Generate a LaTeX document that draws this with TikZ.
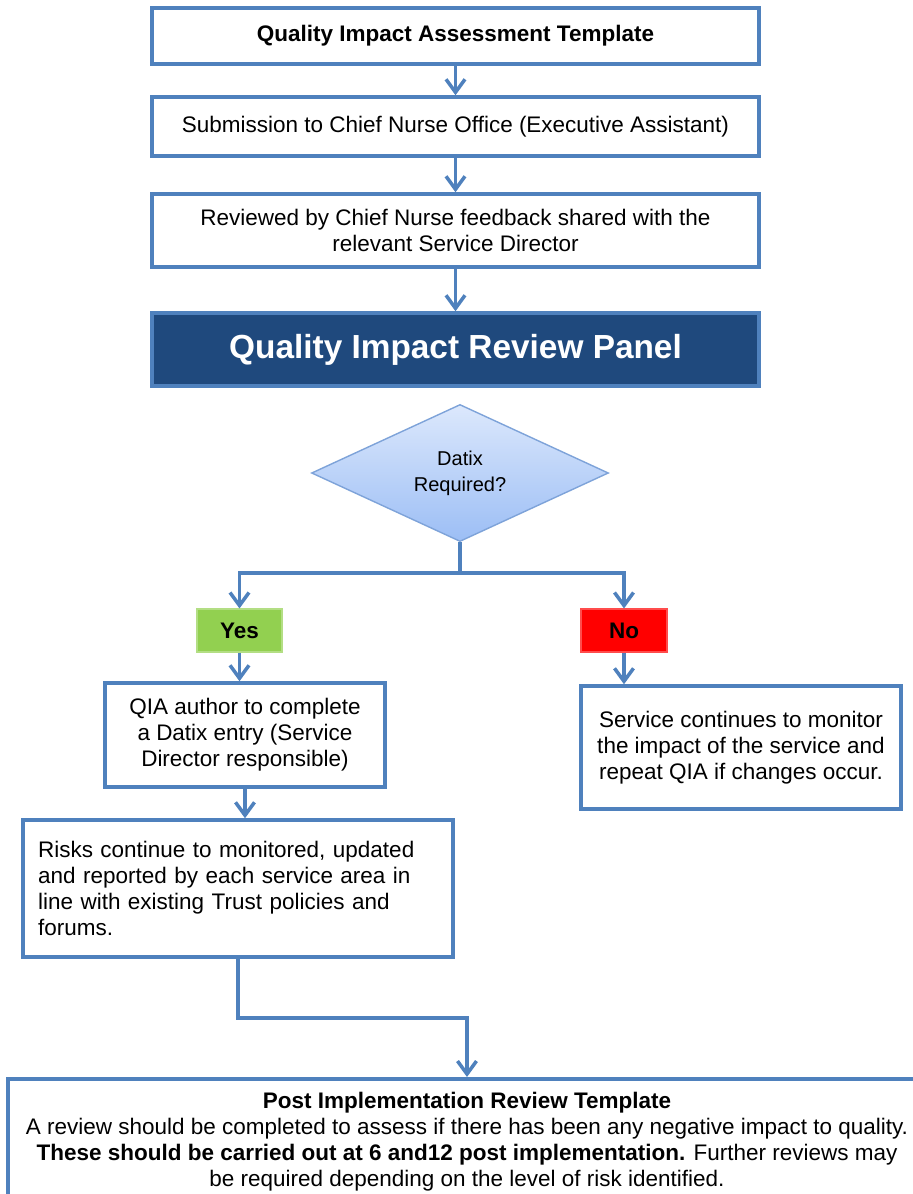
\documentclass[tikz,border=0pt]{standalone}
\usepackage{fontspec}
\setmainfont{Liberation Sans}
\usetikzlibrary{shapes.geometric,arrows.meta}

\definecolor{qiablue}{HTML}{4F81BD}
\definecolor{panelblue}{HTML}{1F497D}
\definecolor{diatop}{HTML}{DCE8FC}
\definecolor{diabot}{HTML}{9CBEF5}
\definecolor{diaedge}{HTML}{7EA3D9}
\definecolor{yesgreen}{HTML}{92D050}
\definecolor{nored}{HTML}{FF0000}

\newcommand{\qiafont}{\fontsize{12.8}{14.8}\selectfont}

\tikzset{
  qiabox/.style={draw=qiablue, line width=2pt, fill=white, align=center,
    inner sep=0pt, font=\qiafont},
  panelbox/.style={qiabox, fill=panelblue, text=white,
    font=\fontsize{19}{22}\selectfont\bfseries},
  decision/.style={diamond, draw=diaedge, line width=0.8pt, top color=diatop,
    bottom color=diabot, inner sep=0pt, align=center,
    font=\fontsize{11.4}{14.8}\selectfont},
  answer/.style={line width=0.6pt, inner sep=0pt, minimum height=0.86cm,
    font=\qiafont\bfseries},
  link/.style={qiablue, line width=2pt},
  flow/.style={link, -{Straight Barb[length=0.26cm,width=0.38cm]}},
}

\begin{document}
\begin{tikzpicture}[x=0.02cm, y=-0.02cm]

  \useasboundingbox (0,0) rectangle (913,1194);

  % --- template and review steps ---
  \node[qiabox, minimum width=12.14cm, minimum height=1.12cm, font=\qiafont\bfseries]
    (template) at (455.5,36) {Quality Impact Assessment Template};
  \node[qiabox, minimum width=12.14cm, minimum height=1.18cm]
    (submit) at (455.5,126.5) {Submission to Chief Nurse Office (Executive Assistant)};
  \node[qiabox, minimum width=12.14cm, minimum height=1.46cm]
    (chief) at (455.5,230.5) {Reviewed by Chief Nurse feedback shared with the\\relevant Service Director};
  \node[panelbox, minimum width=12.14cm, minimum height=1.46cm]
    (panel) at (455.5,349.5) {Quality Impact Review Panel};

  % --- decision ---
  \node[decision, minimum width=5.94cm, minimum height=2.56cm]
    (datix) at (460,473) {Datix\\Required?};
  \coordinate (split) at (460,573);

  % --- yes / no ---
  \node[answer, fill=yesgreen, draw=yesgreen!70!white, minimum width=1.7cm]
    (yes) at (239.5,630.5) {Yes};
  \node[answer, fill=nored, draw=nored!70!white, minimum width=1.72cm]
    (no) at (624,630.5) {No};

  % --- yes branch ---
  \node[qiabox, minimum width=5.6cm, minimum height=2.08cm]
    (author) at (245,735) {QIA author to complete\\a Datix entry (Service\\Director responsible)};
  \node[qiabox, minimum width=8.6cm, minimum height=2.74cm, text width=8cm, align=left]
    (risks) at (238,888.5) {Risks continue to monitored, updated\\and reported by each service area in\\line with existing Trust policies and\\forums.};
  \coordinate (bend) at (238,1018);

  % --- no branch ---
  \node[qiabox, minimum width=6.4cm, minimum height=2.46cm]
    (monitor) at (741,747.5) {Service continues to monitor\\the impact of the service and\\repeat QIA if changes occur.};

  % --- post implementation ---
  \node[qiabox, minimum width=18.36cm, minimum height=2.5cm, anchor=north]
    (post) at (467,1077) {{\bfseries Post Implementation Review Template}\\
    A review should be completed to assess if there has been any negative impact to quality.\\
    {\bfseries These should be carried out at 6 and12 post implementation.} Further reviews may\\
    be required depending on the level of risk identified.};

  % --- connectors ---
  \draw[flow] (template) -- (submit);
  \draw[flow] (submit) -- (chief);
  \draw[flow] (chief) -- (panel);
  \draw[link] (datix.south) -- (split);
  \draw[flow] (split) -| (yes.north);
  \draw[flow] (split) -| (no.north);
  \draw[flow] (yes.south) -- (yes.south |- author.north);
  \draw[flow] (no.south) -- (no.south |- monitor.north);
  \draw[flow] (author.south) -- (author.south |- risks.north);
  \draw[flow] (risks.south) -- (bend) -| (post.north);

\end{tikzpicture}
\end{document}
